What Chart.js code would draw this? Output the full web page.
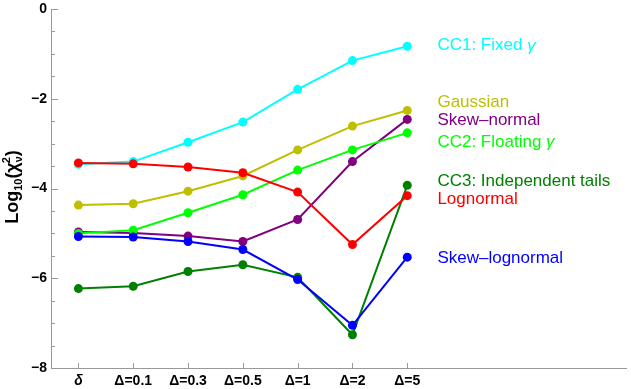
<!DOCTYPE html>
<html>
<head>
<meta charset="utf-8">
<script src="https://cdn.jsdelivr.net/npm/chart.js@4.4.1/dist/chart.umd.min.js"></script>
<style>
  html, body { margin: 0; padding: 0; background: #fff; }
  #wrap { width: 631px; height: 389px; }
</style>
</head>
<body>
<div id="wrap"><canvas id="c"></canvas></div>
<script>
// categories on the x axis
var categories = ['δ', 'Δ=0.1', 'Δ=0.3', 'Δ=0.5', 'Δ=1', 'Δ=2', 'Δ=5'];

// log10 chi^2 values, one per category
var cc1Fixed      = [-3.46, -3.40, -2.97, -2.52, -1.79, -1.15, -0.83];
var gaussian      = [-4.37, -4.34, -4.06, -3.72, -3.14, -2.61, -2.26];
var skewNormal    = [-4.97, -4.99, -5.06, -5.18, -4.69, -3.40, -2.46];
var cc2Floating   = [-5.00, -4.93, -4.54, -4.14, -3.59, -3.14, -2.76];
var cc3Tails      = [-6.23, -6.18, -5.85, -5.70, -5.98, -7.26, -3.93];
var lognormal     = [-3.43, -3.45, -3.52, -3.65, -4.08, -5.25, -4.16];
var skewLognormal = [-5.07, -5.08, -5.18, -5.36, -6.03, -7.05, -5.53];

var seriesNames = ['CC1: Fixed γ', 'Gaussian', 'Skew\u2013normal', 'CC2: Floating γ',
                   'CC3: Independent tails', 'Lognormal', 'Skew\u2013lognormal'];
var seriesData  = [cc1Fixed, gaussian, skewNormal, cc2Floating, cc3Tails, lognormal, skewLognormal];
var seriesColors = ['#00ffff', '#bfbf00', '#800080', '#00ff00', '#008000', '#ff0000', '#0000ff'];

// where the text labels sit on the right (y in data units)
var labelY = [-0.82, -2.07, -2.47, -2.96, -3.85, -4.25, -5.55];

var yTicks = [0, -2, -4, -6, -8];

var datasets = [];
for (var s = 0; s < seriesData.length; s++) {
  var pts = [];
  for (var i = 0; i < categories.length; i++) {
    pts.push({ x: i, y: seriesData[s][i] });
  }
  datasets.push({
    label: seriesNames[s],
    data: pts,
    borderColor: seriesColors[s],
    backgroundColor: seriesColors[s],
    borderWidth: 2,
    pointRadius: 4.5,
    pointBorderWidth: 0,
    fill: false,
    tension: 0
  });
}
// draw order like the original: cyan on top of red at the left
datasets.reverse();

var axisColor = '#999999';
var labelFont = '17px "Liberation Sans", Arial, sans-serif';
var labelFontIt = 'italic 17px "Liberation Sans", Arial, sans-serif';

var decorPlugin = {
  id: 'decor',
  afterDraw: function(chart) {
    var ctx = chart.ctx;
    var xs = chart.scales.x, ys = chart.scales.y;
    var left = chart.chartArea.left, bottom = chart.chartArea.bottom;
    ctx.save();
    ctx.strokeStyle = axisColor;
    ctx.lineWidth = 1;
    // y ticks (inside), major every 2, minor every 0.5
    for (var v = -8; v <= 0.001; v += 0.5) {
      var py = Math.round(ys.getPixelForValue(v)) + 0.5;
      var len = (Math.abs(v % 2) < 0.001) ? 7 : 4;
      ctx.beginPath();
      ctx.moveTo(left, py);
      ctx.lineTo(left + len, py);
      ctx.stroke();
    }
    // x ticks (inside)
    for (var i = 0; i < categories.length; i++) {
      var px = Math.round(xs.getPixelForValue(i)) + 0.5;
      ctx.beginPath();
      ctx.moveTo(px, bottom);
      ctx.lineTo(px, bottom - 5);
      ctx.stroke();
    }
    // series labels on the right, gamma in italics
    ctx.textAlign = 'left';
    ctx.textBaseline = 'middle';
    var lx = xs.getPixelForValue(6.55);
    for (var s = 0; s < seriesNames.length; s++) {
      ctx.fillStyle = seriesColors[s];
      var ly = ys.getPixelForValue(labelY[s]);
      var pieces = seriesNames[s].split('γ');
      var cx0 = lx;
      for (var k = 0; k < pieces.length; k++) {
        ctx.font = labelFont;
        ctx.fillText(pieces[k], cx0, ly);
        cx0 += ctx.measureText(pieces[k]).width;
        if (k < pieces.length - 1) {
          ctx.font = labelFontIt;
          ctx.fillText('γ', cx0, ly);
          cx0 += ctx.measureText('γ').width;
        }
      }
    }
    // y axis title: Log10(chi_nu^2)
    ctx.translate(12, 187);
    ctx.rotate(-Math.PI / 2);
    ctx.fillStyle = '#000';
    ctx.textBaseline = 'alphabetic';
    var big = 'bold 18px "Liberation Sans", Arial, sans-serif';
    var small = 'bold 11px "Liberation Sans", Arial, sans-serif';
    var parts = [
      ['Log', big, 0], ['10', small, 4], ['(', big, 0], ['χ', big, 0],
      ['ν', small, 4], ['2', small, -8], [')', big, 0]
    ];
    var total = 0;
    for (var p = 0; p < parts.length; p++) {
      ctx.font = parts[p][1];
      total += ctx.measureText(parts[p][0]).width;
    }
    // superscript and subscript stack, so drop width of the '2'
    ctx.font = small;
    total -= ctx.measureText('2').width;
    var cx = -total / 2;
    var base = 6;
    for (var p = 0; p < parts.length; p++) {
      ctx.font = parts[p][1];
      var w = ctx.measureText(parts[p][0]).width;
      if (parts[p][0] === '2') {
        ctx.fillText('2', cx - ctx.measureText('ν').width - 1, base + parts[p][2]);
        continue;
      }
      ctx.fillText(parts[p][0], cx, base + parts[p][2]);
      cx += w;
    }
    ctx.restore();
  }
};

new Chart(document.getElementById('c').getContext('2d'), {
  type: 'line',
  data: { datasets: datasets },
  options: {
    responsive: true,
    maintainAspectRatio: false,
    animation: false,
    layout: { padding: { top: 9, right: 1, left: 0, bottom: 0 } },
    plugins: { legend: { display: false }, tooltip: { enabled: false } },
    scales: {
      x: {
        type: 'linear',
        min: -0.5,
        max: 10,
        afterBuildTicks: function(scale) {
          scale.ticks = categories.map(function(c, i) { return { value: i }; });
        },
        afterFit: function(scale) {
          scale.height = 21;
          scale.paddingLeft = 0;
          scale.paddingRight = 0;
        },
        grid: { display: false, drawTicks: false },
        border: { display: true, color: axisColor, width: 1 },
        ticks: {
          autoSkip: false,
          maxRotation: 0,
          padding: 5,
          color: '#000',
          font: function(ctx) {
            var f = { family: '"Liberation Sans", Arial, sans-serif', size: 14, weight: 'bold' };
            if (ctx.index === 0) f.style = 'italic';
            return f;
          },
          callback: function(v) { return categories[v]; }
        }
      },
      y: {
        type: 'linear',
        min: -8,
        max: 0,
        afterBuildTicks: function(scale) {
          scale.ticks = yTicks.map(function(v) { return { value: v }; });
        },
        afterFit: function(scale) {
          scale.width = 51;
          scale.paddingTop = 0;
          scale.paddingBottom = 0;
        },
        grid: { display: false, drawTicks: false },
        border: { display: true, color: axisColor, width: 1 },
        ticks: {
          padding: 4,
          color: '#000',
          font: { family: '"Liberation Sans", Arial, sans-serif', size: 14, weight: 'bold' },
          callback: function(v) { return v < 0 ? '\u2212' + Math.abs(v) : String(v); }
        }
      }
    }
  },
  plugins: [decorPlugin]
});
</script>
</body>
</html>
